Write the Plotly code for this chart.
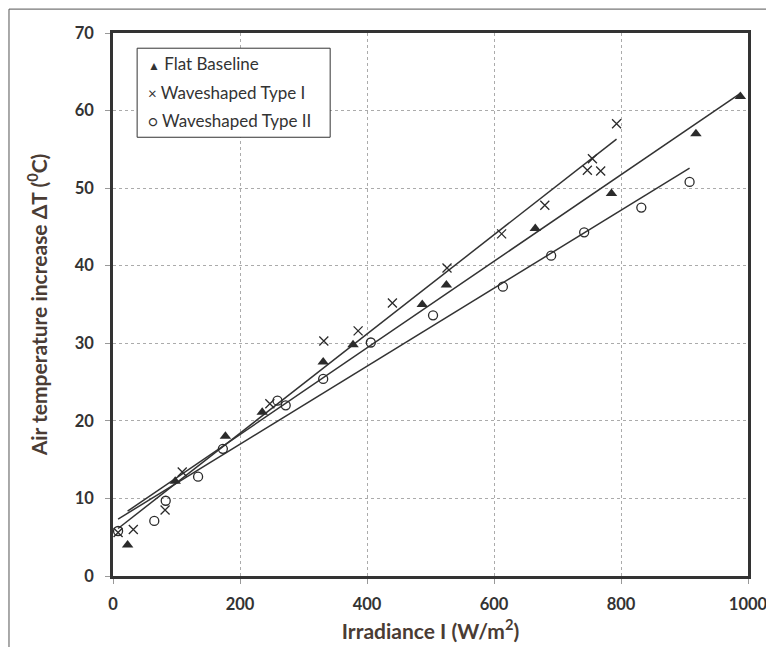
import numpy as np
import plotly.graph_objects as go

# ---- data ----
flat_x = [23, 98, 177, 235, 331, 378, 487, 525, 665, 785, 918, 988]
flat_y = [4.0, 12.2, 18.0, 21.1, 27.6, 29.8, 35.0, 37.5, 44.8, 49.3, 57.0, 61.8]

type1_x = [8, 32, 82, 109, 247, 332, 386, 440, 526, 612, 680, 747, 755, 768, 793]
type1_y = [5.6, 6.0, 8.5, 13.4, 22.2, 30.3, 31.6, 35.2, 39.7, 44.1, 47.8, 52.3, 53.8, 52.2, 58.3]

type2_x = [8, 65, 83, 134, 173, 259, 272, 331, 406, 504, 614, 690, 742, 832, 908]
type2_y = [5.8, 7.1, 9.7, 12.8, 16.4, 22.6, 22.0, 25.4, 30.1, 33.6, 37.3, 41.3, 44.3, 47.5, 50.8]

series_names = ["Flat Baseline", "Waveshaped Type I", "Waveshaped Type II"]
legend_glyphs = ["▲", "×", "○"]
x_ticks = [0, 200, 400, 600, 800, 1000]
y_ticks = [0, 10, 20, 30, 40, 50, 60, 70]

INK = "#2b2b2b"
FONT = "Lato, 'Open Sans', sans-serif"

fig = go.Figure()

series = [
    (flat_x, flat_y, dict(symbol="triangle-up", size=10, color=INK, line=dict(width=0))),
    (type1_x, type1_y, dict(symbol="x-thin-open", size=9, color=INK, line=dict(width=1.3, color=INK))),
    (type2_x, type2_y, dict(symbol="circle-open", size=9, color=INK, line=dict(width=1.3, color=INK))),
]

# linear trendlines (fitted from the data, spanning data range)
for xs, ys, _ in series:
    xs_a = np.array(xs, dtype=float)
    ys_a = np.array(ys, dtype=float)
    m, b = np.polyfit(xs_a, ys_a, 1)
    xr = np.array([xs_a.min(), xs_a.max()])
    fig.add_trace(go.Scatter(x=xr, y=m * xr + b, mode="lines",
                             line=dict(color="#333333", width=1.5),
                             showlegend=False, hoverinfo="skip"))

for (xs, ys, mk), name in zip(series, series_names):
    fig.add_trace(go.Scatter(x=xs, y=ys, mode="markers", name=name,
                             marker=mk, showlegend=False))

axis_common = dict(
    showline=True, linecolor="#333333", linewidth=2.5, mirror=True,
    showgrid=True, gridcolor="#ababab", griddash="dot", gridwidth=1,
    ticks="outside", ticklen=5, tickcolor="#999999", tickwidth=1,
    zeroline=False, ticklabeloverflow="allow", automargin=False,
    tickfont=dict(family=FONT, size=16.5, color="#333333", weight="bold"),
)

TITLE_FONT = dict(family=FONT, size=21, color="#4a3c34", weight="bold")

fig.update_xaxes(range=[0, 1000], tickvals=x_ticks, ticklabelstandoff=6, **axis_common,
                 title=dict(text="Irradiance I (W/m<sup>2</sup>)", font=TITLE_FONT, standoff=12))
fig.update_yaxes(range=[0, 70], tickvals=y_ticks, ticklabelstandoff=8, **axis_common,
                 title=dict(text="Air temperature increase ΔT (<sup>0</sup>C)", font=TITLE_FONT,
                            standoff=22))

# legend box drawn as a shape with text entries (glyph + name)
leg_left, leg_right, leg_top, leg_bottom = 0.038, 0.342, 0.972, 0.808
entry_y = [0.944, 0.891, 0.839]
annotations = []
for g, name, ey in zip(legend_glyphs, series_names, entry_y):
    gsize = 12 if g == "▲" else 15
    annotations.append(dict(
        xref="paper", yref="paper", x=leg_left + 0.0135, y=ey,
        xanchor="left", yanchor="middle", showarrow=False,
        text=f"<span style='font-size:{gsize}px'>{g}</span> {name}",
        font=dict(family=FONT, size=17, color="#333333"),
    ))

fig.update_layout(
    width=766, height=647,
    margin=dict(l=113, r=18, t=33, b=71),
    paper_bgcolor="white", plot_bgcolor="white",
    showlegend=False,
    annotations=annotations,
    shapes=[
        dict(type="rect", xref="paper", yref="paper",
             x0=-0.1638, x1=1.06, y0=-0.16, y1=1.044,
             line=dict(color="#555555", width=1), layer="below"),
        dict(type="rect", xref="paper", yref="paper",
             x0=leg_left, x1=leg_right, y0=leg_bottom, y1=leg_top,
             line=dict(color="#333333", width=1), fillcolor="white", layer="above"),
    ],
)

fig.write_html("out.html")
